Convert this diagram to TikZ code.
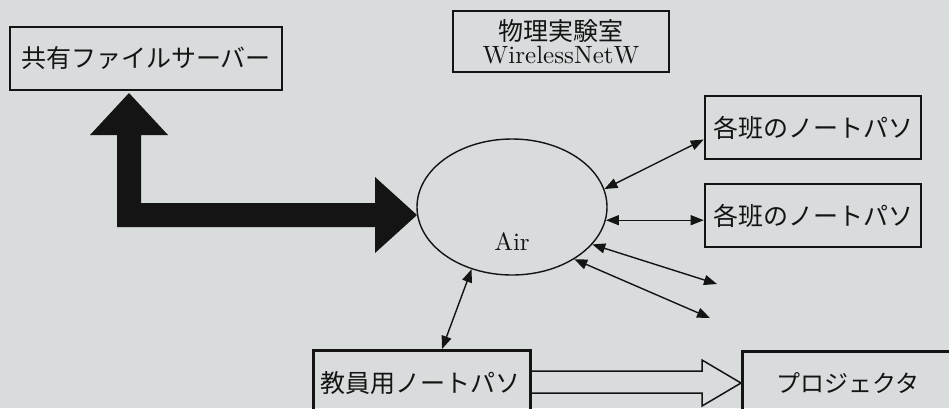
\documentclass[tikz,border=0pt]{standalone}
\usepackage{fontspec}
\newfontfamily\jp{Noto Sans CJK JP}
\newfontfamily\lmten{lmroman10-regular.otf}
\usetikzlibrary{shapes.geometric,arrows.meta,calc}
\definecolor{bg}{RGB}{216,220,220}
\definecolor{ink}{RGB}{20,20,20}
\tikzset{
  box/.style={draw=ink, line width=2.6pt, rectangle, inner sep=0pt, text=ink,
    font=\jp\fontsize{25}{25}\selectfont},
  thinarr/.style={draw=ink, line width=1.4pt, {Triangle[length=13pt,width=10pt]}-{Triangle[length=13pt,width=10pt]}},
  bigarr/.style={fill=ink, draw=none},
  hollowarr/.style={draw=ink, line width=1.5pt, line join=miter},
}
\begin{document}
\begin{tikzpicture}[x=1pt,y=-1pt]
\fill[bg] (0,0) rectangle (949,408);
\useasboundingbox (0,0) rectangle (949,408);
\clip (0,0) rectangle (949,408);

\node[box, minimum width=272pt, minimum height=63pt] (server) at (146,58.5) {共有ファイルサーバー};
\node[box, minimum width=216pt, minimum height=61pt, align=center] (title) at (561,41.5)
  {物理実験室\\[-2pt]{\lmten\fontsize{25}{25}\selectfont WirelessNetW}};
\node[box, minimum width=216pt, minimum height=63pt] (nb1) at (813,127.5) {各班のノートパソ};
\node[box, minimum width=216pt, minimum height=63pt] (nb2) at (813,215.5) {各班のノートパソ};
\node[draw=ink, line width=1.4pt, ellipse, minimum width=190pt, minimum height=136pt, inner sep=0pt] (air) at (512,207) {};
\node[text=ink, font=\lmten\fontsize{25}{25}\selectfont] (airtext) at (512,242) {Air};
\node[box, minimum width=217pt, minimum height=69pt, anchor=north west] (teacher) at (312,349) {};
\node[text=ink, font=\jp\fontsize{25}{25}\selectfont] (teachertext) at (420.5,383) {教員用ノートパソ};
\node[box, minimum width=214pt, minimum height=69pt, anchor=north west] (proj) at (741,350) {};
\node[text=ink, font=\jp\fontsize{24}{25}\selectfont] (projtext) at (848,383) {プロジェクタ};

% thin double arrows
\coordinate (e3) at (717,284);
\coordinate (e4) at (710,318);
\draw[thinarr] (air.11) -- ($(nb1.west)+(0,12)$);
\draw[thinarr] (air.-8) -- (air.-8 -| nb2.west);
\draw[thinarr] (air.-25) -- (e3);
\draw[thinarr] (air.-40) -- (e4);
\draw[thinarr] (air.-123) -- ($(teacher.north west)+(130,0)$);

% big black double arrow
\fill[bigarr] (129,93) -- (168,135) -- (141,135) -- (141,203) -- (375,203) -- (375,177)
  -- (417,215) -- (375,253) -- (375,227) -- (117,227) -- (117,135) -- (90,135) -- cycle;

% hollow arrow teacher -> projector
\draw[hollowarr] ($(teacher.north east)+(0,22)$) -- (702,371) -- (702,360) -- ($(proj.north west)+(0,33)$)
  -- (702,406) -- (702,393) -- ($(teacher.north east)+(0,44)$);
\end{tikzpicture}
\end{document}
